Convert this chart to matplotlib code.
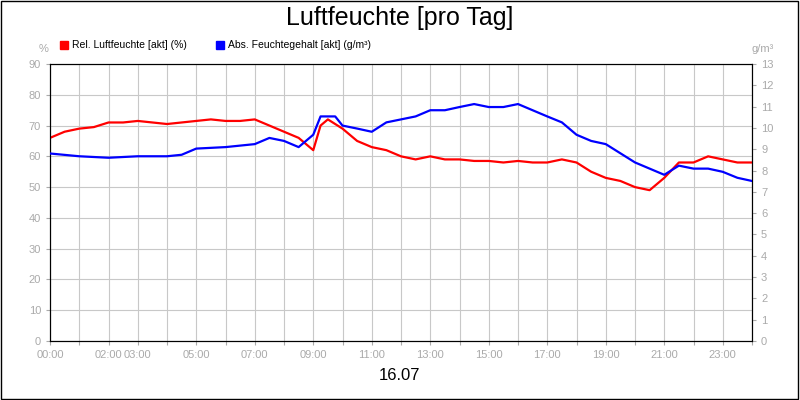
import matplotlib.pyplot as plt
import numpy as np

plt.rcParams["font.family"] = "Liberation Sans"

# hours of day
rel_hours = [0, 0.5, 1, 1.5, 2, 2.5, 3, 3.5, 4, 4.5, 5, 5.5, 6, 6.5, 7, 7.5, 8, 8.5, 8.75, 9,
             9.25, 9.5, 10, 10.5, 11, 11.5, 12, 12.5, 13, 13.5, 14, 14.5, 15, 15.5, 16, 16.5,
             17, 17.5, 18, 18.5, 19, 19.5, 20, 20.5, 21, 21.5, 22, 22.5, 23, 23.5, 24]
rel_humidity = [66, 68, 69, 69.5, 71, 71, 71.5, 71, 70.5, 71, 71.5, 72, 71.5, 71.5, 72, 70, 68,
                66, 64, 62, 70, 72, 69, 65, 63, 62, 60, 59, 60, 59, 59, 58.5, 58.5, 58, 58.5,
                58, 58, 59, 58, 55, 53, 52, 50, 49, 53, 58, 58, 60, 59, 58, 58]

abs_hours = [0, 1, 2, 3, 4, 4.5, 5, 6, 7, 7.5, 8, 8.5, 9, 9.25, 9.75, 10, 10.5, 11, 11.5, 12,
             12.5, 13, 13.5, 14, 14.5, 15, 15.5, 16, 16.5, 17, 17.5, 18, 18.5, 19, 19.5, 20,
             20.5, 21, 21.5, 22, 22.5, 23, 23.5, 24]
abs_humidity = [8.8, 8.67, 8.6, 8.67, 8.67, 8.74, 9.03, 9.1, 9.24, 9.53, 9.39, 9.1, 9.68,
                10.54, 10.54, 10.11, 9.97, 9.82, 10.26, 10.4, 10.54, 10.83, 10.83, 10.98, 11.12,
                10.98, 10.98, 11.12, 10.83, 10.54, 10.26, 9.68, 9.39, 9.24, 8.81, 8.38, 8.09,
                7.8, 8.23, 8.09, 8.09, 7.94, 7.66, 7.51]

tick_labels = {0: "00:00", 2: "02:00", 3: "03:00", 5: "05:00", 7: "07:00", 9: "09:00",
               11: "11:00", 13: "13:00", 15: "15:00", 17: "17:00", 19: "19:00",
               21: "21:00", 23: "23:00"}

grey = "#aaaaaa"
fig = plt.figure(figsize=(8, 4), dpi=100)
ax = fig.add_axes([0.0625, 0.1475, 0.8775, 0.6925])
ax2 = ax.twinx()

ax.plot(rel_hours, rel_humidity, color="#ff0000", lw=1.6, zorder=3)
ax2.plot(abs_hours, abs_humidity, color="#0000ff", lw=1.6, zorder=3)

ax.set_xlim(0, 24)
ax.set_ylim(0, 90)
ax2.set_ylim(0, 13)
ax.set_xticks(range(25))
ax.set_xticklabels([tick_labels.get(h, "") for h in range(25)])
ax.set_yticks(range(0, 91, 10))
ax2.set_yticks(range(0, 14))
ax.grid(True, color="#c8c8c8", lw=0.8)
ax.set_axisbelow(True)
for a in (ax, ax2):
    a.tick_params(colors=grey, labelsize=8, length=3)
    for s in a.spines.values():
        s.set_color("black")
ax.tick_params(axis="x", labelcolor=grey)

fig.text(0.5, 0.955, "Luftfeuchte [pro Tag]", ha="center", va="center", fontsize=18)
fig.text(0.5, 0.06, "16.07", ha="center", va="center", fontsize=12)
fig.text(0.048, 0.87, "%", color=grey, fontsize=8)
fig.text(0.94, 0.87, "g/m³", color=grey, fontsize=8)

fig.patches.append(plt.Rectangle((0.075, 0.878), 0.01, 0.02, color="#ff0000", transform=fig.transFigure))
fig.text(0.09, 0.888, "Rel. Luftfeuchte [akt] (%)", fontsize=7.5, va="center")
fig.patches.append(plt.Rectangle((0.27, 0.878), 0.01, 0.02, color="#0000ff", transform=fig.transFigure))
fig.text(0.285, 0.888, "Abs. Feuchtegehalt [akt] (g/m³)", fontsize=7.5, va="center")

fig.patches.append(plt.Rectangle((0.001, 0.002), 0.997, 0.995, fill=False, ec="black", lw=1,
                                 transform=fig.transFigure))

plt.savefig("out.png", dpi=100)
